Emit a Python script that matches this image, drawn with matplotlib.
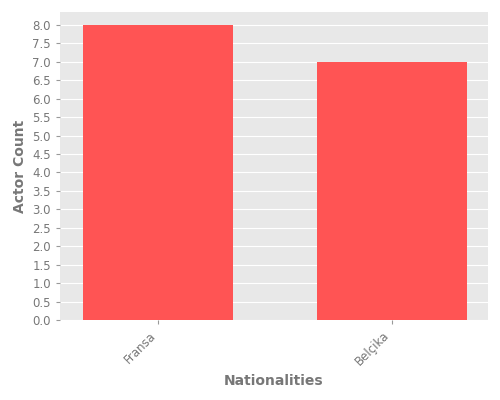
import matplotlib
matplotlib.use("Agg")
import matplotlib.pyplot as plt
import numpy as np

# data
nationalities = ["Fransa", "Belçika"]
actor_counts = [8, 7]
yticks = np.arange(0, 8.01, 0.5)

fig, ax = plt.subplots(figsize=(5, 4), dpi=100)
ax.set_facecolor("#e8e8e8")
x = np.arange(len(nationalities))
ax.bar(x, actor_counts, width=0.64, color="#ff5454", zorder=3)
ax.set_xticks(x)
ax.set_xticklabels(nationalities, rotation=45, ha="right", color="#777777", fontsize=8.5)
ax.set_yticks(yticks)
ax.set_yticklabels([f"{v:.1f}" for v in yticks], color="#777777", fontsize=8.5)
ax.set_xlim(-0.42, 1.41)
ax.set_ylim(0, 8.35)
ax.grid(axis="y", color="white", linewidth=0.8, zorder=0)
for s in ax.spines.values():
    s.set_visible(False)
ax.tick_params(length=3, color="#999999")
ax.set_xlabel("Nationalities", color="#777777", fontsize=10, fontweight="bold")
ax.set_ylabel("Actor Count", color="#777777", fontsize=10, fontweight="bold")
plt.subplots_adjust(left=0.12, right=0.976, top=0.97, bottom=0.2)
fig.savefig("out.png")
